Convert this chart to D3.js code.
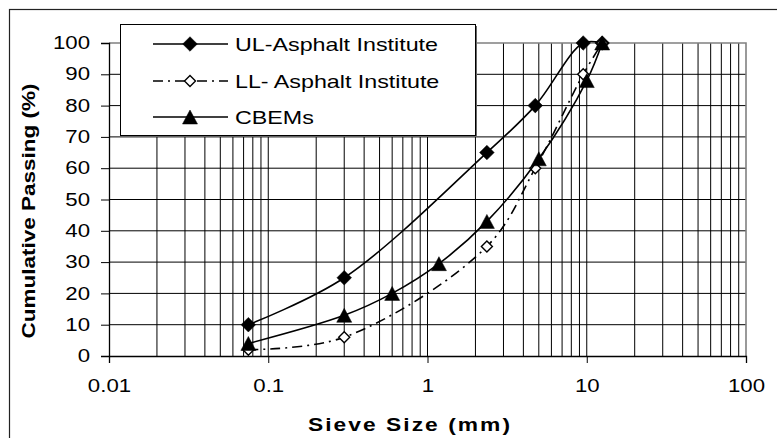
<!DOCTYPE html>
<html><head><meta charset="utf-8">
<script src="https://cdn.jsdelivr.net/npm/d3@7"></script>
<style>
body{margin:0;background:#fff}
svg{display:block;font-family:"Liberation Sans",Arial,sans-serif}
</style>
</head><body>
<svg id="c" width="777" height="438"></svg>
<script>
// ---- data ----
const sieveSizes = [0.075, 0.3, 0.6, 1.18, 2.36, 4.75, 9.5, 12.5];
const ulAsphalt  = [10, 25, null, null, 65, 80, 100, 100];
const llAsphalt  = [2, 6, null, null, 35, 60, 90, 100];
const cbemSizes  = [0.075, 0.3, 0.6, 1.18, 2.36, 5, 10, 12.5];
const cbems      = [4, 13, 20, 29.5, 43, 63, 88, 100];
const seriesNames = ["UL-Asphalt Institute", "LL- Asphalt Institute", "CBEMs"];
const xTickValues = [0.01, 0.1, 1, 10, 100];
const xTickLabels = ["0.01", "0.1", "1", "10", "100"];
const yTickValues = [0, 10, 20, 30, 40, 50, 60, 70, 80, 90, 100];
const xTitle = "Sieve Size (mm)";
const yTitle = "Cumulative Passing (%)";

// ---- layout ----
const svg = d3.select("#c");
const L = 109, R = 746, T = 43, B = 356;
const SX = 1.27; // horizontal text stretch of the original picture
const x = d3.scaleLog().domain([0.01, 100]).range([L, R]);
const y = d3.scaleLinear().domain([0, 100]).range([B, T]);

// outer chart border
svg.append("rect").attr("x", 9.5).attr("y", 9.5).attr("width", 900).attr("height", 600)
  .attr("fill", "none").attr("stroke", "#222").attr("stroke-width", 1.2);

// gridlines
const grid = svg.append("g").attr("stroke", "#000").attr("stroke-width", 1);
grid.selectAll("line.v").data(x.ticks().filter(v => v > 0.01 && v < 100)).join("line")
  .attr("x1", d => x(d)).attr("x2", d => x(d)).attr("y1", T).attr("y2", B);
grid.selectAll("line.h").data(yTickValues.filter(v => v > 0 && v < 100)).join("line")
  .attr("x1", L).attr("x2", R).attr("y1", d => y(d)).attr("y2", d => y(d));

// plot area border (top/right, grey)
svg.append("path").attr("d", `M${L},${y(100)}H${x(100)}V${B}`)
  .attr("fill", "none").attr("stroke", "#808080").attr("stroke-width", 1.6);

function stretch(sel, sx) {
  sel.each(function () {
    const t = d3.select(this);
    const xx = +t.attr("x") || 0;
    t.attr("x", xx / sx).attr("transform", `scale(${sx},1)`);
  });
}

// axes
const yAxis = svg.append("g").attr("transform", `translate(${L},0)`)
  .call(d3.axisLeft(y).tickValues(yTickValues).tickSize(8).tickPadding(11).tickFormat(d3.format("d")));
const xAxis = svg.append("g").attr("transform", `translate(0,${B})`)
  .call(d3.axisBottom(x).tickValues(xTickValues).tickSize(7).tickPadding(17)
    .tickFormat((d, i) => xTickLabels[i]));
[yAxis, xAxis].forEach(a => {
  a.select(".domain").attr("stroke", "#000").attr("stroke-width", 1.3);
  a.selectAll(".tick line").attr("stroke", "#000").attr("stroke-width", 1);
  a.selectAll("text").attr("font-size", 17.5).attr("fill", "#000")
    .attr("font-family", '"Liberation Sans",Arial,sans-serif');
  stretch(a.selectAll("text"), SX);
});

// axis titles
svg.append("text")
  .attr("transform", `translate(${410},${431}) scale(1.2,1)`)
  .attr("text-anchor", "middle").attr("font-size", 19).attr("font-weight", "bold")
  .attr("letter-spacing", 1.7).text(xTitle);
svg.append("text")
  .attr("transform", `translate(${35},${211}) rotate(-90) scale(1.25,1)`)
  .attr("text-anchor", "middle").attr("font-size", 18).attr("font-weight", "bold")
  .text(yTitle);

// marker shapes
const diamond = r => `M0,${-r}L${r},0L0,${r}L${-r},0Z`;
const triangle = () => "M0,-7L7.5,7L-7.5,7Z";
const curve = d3.curveCatmullRom.alpha(0.5);

const series = [
  {xs: sieveSizes, ys: ulAsphalt, dash: null, marker: diamond(7.3), fill: "#000", stroke: "#000", sw: 0.5},
  {xs: sieveSizes, ys: llAsphalt, dash: "10,5,2,5", marker: diamond(5.5), fill: "#fff", stroke: "#000", sw: 1.4},
  {xs: cbemSizes, ys: cbems, dash: null, marker: triangle(), fill: "#000", stroke: "#000", sw: 0.5}
];

const plot = svg.append("g");
series.forEach(s => {
  const pts = s.xs.map((v, i) => [v, s.ys[i]]).filter(p => p[1] != null);
  plot.append("path").datum(pts)
    .attr("d", d3.line().x(d => x(d[0])).y(d => y(d[1])).curve(curve))
    .attr("fill", "none").attr("stroke", "#000").attr("stroke-width", 1.6)
    .attr("stroke-dasharray", s.dash);
  plot.selectAll(null).data(pts).join("path")
    .attr("transform", d => `translate(${x(d[0])},${y(d[1])})`)
    .attr("d", s.marker).attr("fill", s.fill).attr("stroke", s.stroke).attr("stroke-width", s.sw);
});

// legend
const lg = svg.append("g");
lg.append("rect").attr("x", 122).attr("y", 26).attr("width", 355).attr("height", 111).attr("fill", "#666");
lg.append("rect").attr("x", 120.5).attr("y", 24.5).attr("width", 355).attr("height", 111)
  .attr("fill", "#fff").attr("stroke", "#000").attr("stroke-width", 1);
const rowY = [44, 81, 117];
series.forEach((s, i) => {
  lg.append("line").attr("x1", 153).attr("x2", 228).attr("y1", rowY[i]).attr("y2", rowY[i])
    .attr("stroke", "#000").attr("stroke-width", 1.5).attr("stroke-dasharray", s.dash);
  lg.append("path").attr("transform", `translate(190,${rowY[i]})`).attr("d", s.marker)
    .attr("fill", s.fill).attr("stroke", s.stroke).attr("stroke-width", s.sw);
  lg.append("text").attr("transform", `translate(235,${rowY[i] + 6.5}) scale(1.33,1)`)
    .attr("font-size", 17.5).text(seriesNames[i]);
});
</script>
</body></html>
